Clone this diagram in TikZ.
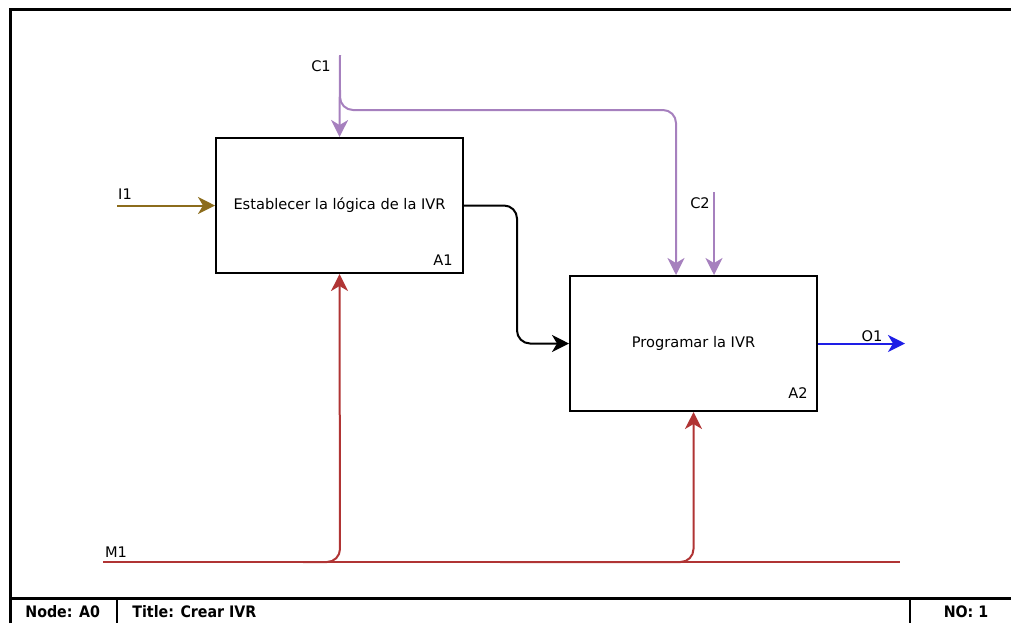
\documentclass[tikz,border=0pt]{standalone}
\usepackage{fontspec}
\setmainfont{DejaVu Sans}
\newfontfamily\footfont{DejaVu Sans Condensed}
\usetikzlibrary{arrows.meta}

\definecolor{ctrlpurple}{RGB}{166,128,190}
\definecolor{mechred}{RGB}{176,52,52}
\definecolor{inbrown}{RGB}{140,108,28}
\definecolor{outblue}{RGB}{30,30,230}

\begin{document}
\begin{tikzpicture}[x=0.5pt, y=-0.5pt, font=\fontsize{7.3}{9}\selectfont,
  actbox/.style={draw, line width=1pt, minimum width=123.5pt, minimum height=67.5pt, inner sep=0pt},
  flow/.style={line width=1pt, rounded corners=6.5pt, -{Stealth[length=8.5pt, width=8.5pt, inset=2.5pt]}},
  plain/.style={line width=1pt, rounded corners=6.5pt},
  lbl/.style={inner sep=0pt},
  foot/.style={font=\footfont\bfseries\fontsize{7.9}{9}\selectfont, inner sep=0pt}]

  \useasboundingbox (0,0) rectangle (1011,623);

  % ────────────────────────────────────────────────────────────────────
  % Frame and footer
  % ────────────────────────────────────────────────────────────────────
  \draw[line width=1.5pt] (10,623) -- (10,9) -- (1011,9);
  \draw[line width=1.5pt] (10,598) -- (1011,598);
  \draw[line width=1pt] (117,598) -- (117,623);
  \draw[line width=1pt] (910,598) -- (910,623);
  \begin{scope}
    \clip (10,598) rectangle (106,623);
    \node[foot, anchor=west] (nodecell) at (25,612) {Node: A0};
  \end{scope}
  \node[foot, anchor=west] (titlecell) at (132,612) {Title: Crear IVR};
  \node[foot] (nocell) at (966,612) {NO: 1};

  % ────────────────────────────────────────────────────────────────────
  % Activities
  % ────────────────────────────────────────────────────────────────────
  \node[actbox] (A1) at (339.5,205.5) {Establecer la lógica de la IVR};
  \node[lbl] (A1id) at (443,260) {A1};

  \node[actbox] (A2) at (693.5,343.5) {Programar la IVR};
  \node[lbl] (A2id) at (798,393) {A2};

  % ── Controls (purple, from above) ──
  \coordinate (c1top) at (340,55);
  \coordinate (c1split) at (340,90);
  \coordinate (c2top) at (714,192);
  \draw[flow, ctrlpurple] (c1top) -- (A1.north);
  \draw[flow, ctrlpurple] (c1split) -- (340,110) -- (676,110) -- ([xshift=-8.75pt]A2.north);
  \draw[flow, ctrlpurple] (c2top) -- ([xshift=10.25pt]A2.north);
  \node[lbl] (C1) at (321,66) {C1};
  \node[lbl] (C2) at (700,203) {C2};

  % ── Input (left) and output (right) ──
  \coordinate (i1start) at (117,205.5);
  \draw[flow, inbrown] (i1start) -- (A1.west);
  \node[lbl] (I1) at (125,194) {I1};

  \coordinate (o1end) at (905,343.5);
  \draw[flow, outblue] (A2.east) -- (o1end);
  \node[lbl] (O1) at (872,336) {O1};

  % ── A1 output feeds A2 ──
  \coordinate (bend) at (517,0);
  \draw[flow, black] (A1.east) -- (A1.east -| bend) -- (A2.west -| bend) -- (A2.west);

  % ── Mechanism (red, from below) ──
  \coordinate (m1start) at (103,562);
  \coordinate (m1end) at (900,562);
  \coordinate (m1a) at (303,562);
  \coordinate (m1b) at (500,562);
  \draw[plain, mechred] (m1start) -- (m1end);
  \draw[flow, mechred] (m1a) -- (340,562) -- (A1.south);
  \draw[flow, mechred] (m1b) -- (693.5,562) -- (A2.south);
  \node[lbl] (M1) at (116,552) {M1};

\end{tikzpicture}
\end{document}
